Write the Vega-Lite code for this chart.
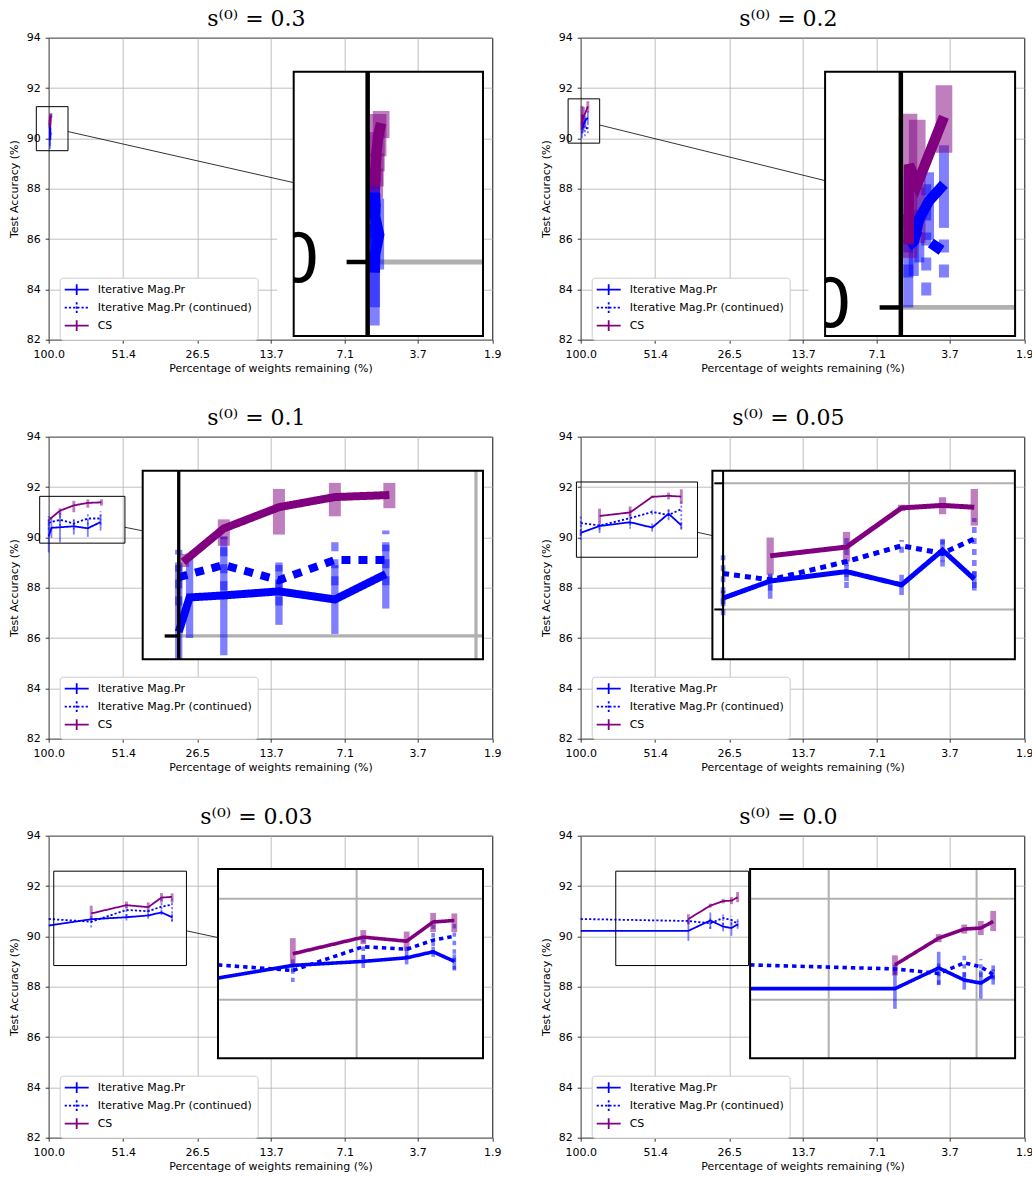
{
"$schema": "https://vega.github.io/schema/vega-lite/v6.json",
"background": "white",
"padding": {"left": 7.7, "top": 6.7, "right": 2, "bottom": 2},
"columns": 2,
"spacing": {"row": 97, "column": 88},
"bounds": "flush",
"resolve": {"scale": {"x": "independent", "y": "independent", "color": "independent", "strokeDash": "independent", "strokeWidth": "independent"}},
"config": {
 "view": {"stroke": "black", "strokeWidth": 1},
 "axis": {"labelFont": "DejaVu Sans", "labelFontSize": 11, "labelColor": "black", "titleFont": "DejaVu Sans", "titleFontSize": 11, "titleFontWeight": "normal", "titleColor": "black", "tickColor": "black", "tickSize": 3.5, "tickWidth": 0.8, "domain": false, "grid": true, "gridColor": "#b0b0b0", "gridWidth": 0.8},
 "axisX": {"titlePadding": 3, "labelPadding": 5.5},
 "axisY": {"titlePadding": 7, "labelPadding": 5},
 "legend": {"orient": "none", "legendX": 11, "legendY": 240, "fillColor": "white", "strokeColor": "#cccccc", "cornerRadius": 3, "padding": 5, "labelFont": "DejaVu Sans", "labelFontSize": 11, "labelColor": "black", "symbolSize": 144, "symbolOffset": 5, "rowPadding": 0, "labelOffset": 14},
 "title": {"font": "DejaVu Serif", "fontSize": 22, "fontWeight": "normal", "color": "black", "anchor": "middle", "offset": 1}
},
"datasets": {
 "pts": [
  {"panel":"0.3","series":"Iterative Mag.Pr","x":98.95,"y":89.93,"lo":89.58,"hi":90.25},
  {"panel":"0.3","series":"Iterative Mag.Pr","x":98.9,"y":90.05,"lo":89.7,"hi":90.4},
  {"panel":"0.3","series":"Iterative Mag.Pr","x":98.3,"y":90.18,"lo":89.95,"hi":90.42},
  {"panel":"0.3","series":"Iterative Mag.Pr","x":98.9,"y":90.3,"lo":90.05,"hi":90.5},
  {"panel":"0.3","series":"Iterative Mag.Pr","x":98.95,"y":90.46,"lo":90.2,"hi":90.6},
  {"panel":"0.3","series":"Iterative Mag.Pr (continued)","x":98.95,"y":90.3,"lo":90.0,"hi":90.55},
  {"panel":"0.3","series":"Iterative Mag.Pr (continued)","x":98.9,"y":90.35,"lo":90.1,"hi":90.6},
  {"panel":"0.3","series":"Iterative Mag.Pr (continued)","x":98.85,"y":90.4,"lo":90.15,"hi":90.62},
  {"panel":"0.3","series":"Iterative Mag.Pr (continued)","x":98.8,"y":90.42,"lo":90.2,"hi":90.62},
  {"panel":"0.3","series":"CS","x":98.95,"y":90.5,"lo":90.42,"hi":90.62},
  {"panel":"0.3","series":"CS","x":98.85,"y":90.6,"lo":90.5,"hi":90.72},
  {"panel":"0.3","series":"CS","x":98.7,"y":90.72,"lo":90.6,"hi":90.86},
  {"panel":"0.3","series":"CS","x":98.45,"y":90.83,"lo":90.7,"hi":90.98},
  {"panel":"0.3","series":"CS","x":98.0,"y":90.92,"lo":90.82,"hi":91.0},
  {"panel":"0.2","series":"Iterative Mag.Pr","x":98.9,"y":90.41,"lo":90.0,"hi":90.62},
  {"panel":"0.2","series":"Iterative Mag.Pr","x":98.1,"y":90.44,"lo":90.21,"hi":90.65},
  {"panel":"0.2","series":"Iterative Mag.Pr","x":97.3,"y":90.59,"lo":90.3,"hi":90.8},
  {"panel":"0.2","series":"Iterative Mag.Pr","x":95.9,"y":90.71,"lo":90.45,"hi":90.9},
  {"panel":"0.2","series":"Iterative Mag.Pr","x":93.8,"y":90.82,"lo":90.53,"hi":91.08},
  {"panel":"0.2","series":"Iterative Mag.Pr (continued)","x":98.9,"y":90.5,"lo":90.2,"hi":90.7},
  {"panel":"0.2","series":"Iterative Mag.Pr (continued)","x":96.3,"y":90.45,"lo":90.08,"hi":90.82},
  {"panel":"0.2","series":"Iterative Mag.Pr (continued)","x":93.8,"y":90.37,"lo":90.2,"hi":90.5},
  {"panel":"0.2","series":"CS","x":98.85,"y":90.42,"lo":90.33,"hi":90.62},
  {"panel":"0.2","series":"CS","x":98.8,"y":90.95,"lo":90.6,"hi":91.29},
  {"panel":"0.2","series":"CS","x":97.6,"y":90.82,"lo":90.43,"hi":91.25},
  {"panel":"0.2","series":"CS","x":93.8,"y":91.27,"lo":91.03,"hi":91.48},
  {"panel":"0.1","series":"Iterative Mag.Pr","x":100,"y":90.04,"lo":89.4,"hi":90.7},
  {"panel":"0.1","series":"Iterative Mag.Pr","x":97.6,"y":90.38,"lo":89.98,"hi":90.81},
  {"panel":"0.1","series":"Iterative Mag.Pr","x":90.4,"y":90.4,"lo":89.81,"hi":90.98},
  {"panel":"0.1","series":"Iterative Mag.Pr","x":79.9,"y":90.44,"lo":90.11,"hi":90.7},
  {"panel":"0.1","series":"Iterative Mag.Pr","x":70.5,"y":90.36,"lo":90.02,"hi":90.7},
  {"panel":"0.1","series":"Iterative Mag.Pr","x":62.9,"y":90.61,"lo":90.27,"hi":90.9},
  {"panel":"0.1","series":"Iterative Mag.Pr (continued)","x":100,"y":90.58,"lo":90.3,"hi":90.85},
  {"panel":"0.1","series":"Iterative Mag.Pr (continued)","x":90.4,"y":90.7,"lo":90.45,"hi":90.98},
  {"panel":"0.1","series":"Iterative Mag.Pr (continued)","x":79.9,"y":90.55,"lo":90.3,"hi":90.76},
  {"panel":"0.1","series":"Iterative Mag.Pr (continued)","x":70.5,"y":90.75,"lo":90.5,"hi":90.96},
  {"panel":"0.1","series":"Iterative Mag.Pr (continued)","x":62.9,"y":90.75,"lo":90.5,"hi":91.04},
  {"panel":"0.1","series":"CS","x":99.0,"y":90.73,"lo":90.68,"hi":90.81},
  {"panel":"0.1","series":"CS","x":90.4,"y":91.06,"lo":90.89,"hi":91.15},
  {"panel":"0.1","series":"CS","x":79.9,"y":91.27,"lo":91.0,"hi":91.45},
  {"panel":"0.1","series":"CS","x":70.5,"y":91.37,"lo":91.18,"hi":91.51},
  {"panel":"0.1","series":"CS","x":62.4,"y":91.39,"lo":91.26,"hi":91.51},
  {"panel":"0.05","series":"Iterative Mag.Pr","x":100,"y":90.18,"lo":90.05,"hi":90.3},
  {"panel":"0.05","series":"Iterative Mag.Pr","x":84.5,"y":90.45,"lo":90.17,"hi":90.55},
  {"panel":"0.05","series":"Iterative Mag.Pr","x":64.3,"y":90.6,"lo":90.45,"hi":90.7},
  {"panel":"0.05","series":"Iterative Mag.Pr","x":52.8,"y":90.39,"lo":90.23,"hi":90.55},
  {"panel":"0.05","series":"Iterative Mag.Pr","x":45.6,"y":90.94,"lo":90.76,"hi":91.12},
  {"panel":"0.05","series":"Iterative Mag.Pr","x":40.7,"y":90.48,"lo":90.3,"hi":90.6},
  {"panel":"0.05","series":"Iterative Mag.Pr (continued)","x":100,"y":90.57,"lo":89.91,"hi":90.86},
  {"panel":"0.05","series":"Iterative Mag.Pr (continued)","x":84.5,"y":90.47,"lo":90.3,"hi":90.65},
  {"panel":"0.05","series":"Iterative Mag.Pr (continued)","x":64.3,"y":90.76,"lo":90.34,"hi":91.18},
  {"panel":"0.05","series":"Iterative Mag.Pr (continued)","x":52.8,"y":91.01,"lo":90.9,"hi":91.1},
  {"panel":"0.05","series":"Iterative Mag.Pr (continued)","x":45.6,"y":90.89,"lo":90.68,"hi":91.1},
  {"panel":"0.05","series":"Iterative Mag.Pr (continued)","x":40.7,"y":91.12,"lo":90.34,"hi":91.45},
  {"panel":"0.05","series":"CS","x":84.5,"y":90.85,"lo":90.55,"hi":91.14},
  {"panel":"0.05","series":"CS","x":64.3,"y":90.99,"lo":90.76,"hi":91.23},
  {"panel":"0.05","series":"CS","x":52.8,"y":91.61,"lo":91.56,"hi":91.66},
  {"panel":"0.05","series":"CS","x":45.6,"y":91.65,"lo":91.51,"hi":91.78},
  {"panel":"0.05","series":"CS","x":40.7,"y":91.62,"lo":91.33,"hi":91.91},
  {"panel":"0.03","series":"Iterative Mag.Pr","x":100,"y":90.43,"lo":90.43,"hi":90.43},
  {"panel":"0.03","series":"Iterative Mag.Pr","x":68.4,"y":90.68,"lo":90.55,"hi":90.8},
  {"panel":"0.03","series":"Iterative Mag.Pr","x":49.9,"y":90.76,"lo":90.63,"hi":90.89},
  {"panel":"0.03","series":"Iterative Mag.Pr","x":41.1,"y":90.83,"lo":90.7,"hi":90.98},
  {"panel":"0.03","series":"Iterative Mag.Pr","x":36.5,"y":90.95,"lo":90.85,"hi":91.05},
  {"panel":"0.03","series":"Iterative Mag.Pr","x":33.2,"y":90.76,"lo":90.6,"hi":90.9},
  {"panel":"0.03","series":"Iterative Mag.Pr (continued)","x":100,"y":90.69,"lo":90.69,"hi":90.69},
  {"panel":"0.03","series":"Iterative Mag.Pr (continued)","x":68.4,"y":90.58,"lo":90.35,"hi":90.68},
  {"panel":"0.03","series":"Iterative Mag.Pr (continued)","x":49.9,"y":91.05,"lo":90.8,"hi":91.2},
  {"panel":"0.03","series":"Iterative Mag.Pr (continued)","x":41.1,"y":91.0,"lo":90.8,"hi":91.2},
  {"panel":"0.03","series":"Iterative Mag.Pr (continued)","x":36.5,"y":91.18,"lo":90.9,"hi":91.5},
  {"panel":"0.03","series":"Iterative Mag.Pr (continued)","x":33.2,"y":91.26,"lo":90.58,"hi":91.51},
  {"panel":"0.03","series":"CS","x":68.4,"y":90.91,"lo":90.65,"hi":91.22},
  {"panel":"0.03","series":"CS","x":49.9,"y":91.24,"lo":91.1,"hi":91.38},
  {"panel":"0.03","series":"CS","x":41.1,"y":91.16,"lo":90.97,"hi":91.35},
  {"panel":"0.03","series":"CS","x":36.5,"y":91.54,"lo":91.34,"hi":91.72},
  {"panel":"0.03","series":"CS","x":33.2,"y":91.57,"lo":91.34,"hi":91.71},
  {"panel":"0.0","series":"Iterative Mag.Pr","x":100,"y":90.22,"lo":90.22,"hi":90.22},
  {"panel":"0.0","series":"Iterative Mag.Pr","x":38.2,"y":90.22,"lo":89.82,"hi":90.68},
  {"panel":"0.0","series":"Iterative Mag.Pr","x":31.4,"y":90.63,"lo":90.29,"hi":90.95},
  {"panel":"0.0","series":"Iterative Mag.Pr","x":28.0,"y":90.39,"lo":90.2,"hi":90.55},
  {"panel":"0.0","series":"Iterative Mag.Pr","x":26.0,"y":90.33,"lo":90.02,"hi":90.58},
  {"panel":"0.0","series":"Iterative Mag.Pr","x":24.6,"y":90.48,"lo":90.3,"hi":90.68},
  {"panel":"0.0","series":"Iterative Mag.Pr (continued)","x":100,"y":90.69,"lo":90.69,"hi":90.69},
  {"panel":"0.0","series":"Iterative Mag.Pr (continued)","x":38.2,"y":90.61,"lo":90.5,"hi":90.7},
  {"panel":"0.0","series":"Iterative Mag.Pr (continued)","x":31.4,"y":90.52,"lo":90.3,"hi":90.75},
  {"panel":"0.0","series":"Iterative Mag.Pr (continued)","x":28.0,"y":90.73,"lo":90.45,"hi":90.95},
  {"panel":"0.0","series":"Iterative Mag.Pr (continued)","x":26.0,"y":90.65,"lo":90.45,"hi":90.8},
  {"panel":"0.0","series":"Iterative Mag.Pr (continued)","x":24.6,"y":90.5,"lo":90.4,"hi":90.6},
  {"panel":"0.0","series":"CS","x":38.2,"y":90.69,"lo":90.48,"hi":90.88},
  {"panel":"0.0","series":"CS","x":31.4,"y":91.22,"lo":91.14,"hi":91.3},
  {"panel":"0.0","series":"CS","x":28.0,"y":91.4,"lo":91.31,"hi":91.49},
  {"panel":"0.0","series":"CS","x":26.0,"y":91.42,"lo":91.28,"hi":91.56},
  {"panel":"0.0","series":"CS","x":24.6,"y":91.55,"lo":91.36,"hi":91.76}
 ],
 "zoom": [
  {"panel":"0.3","x0":111.7,"x1":84.15,"y0":89.51,"y1":91.26},
  {"panel":"0.2","x0":111.9,"x1":84.4,"y0":89.81,"y1":91.57},
  {"panel":"0.1","x0":108.4,"x1":50.6,"y0":89.77,"y1":91.63},
  {"panel":"0.05","x0":103.9,"x1":35.2,"y0":89.21,"y1":92.2},
  {"panel":"0.03","x0":95.6,"x1":29.2,"y0":88.84,"y1":92.59},
  {"panel":"0.0","x0":73.1,"x1":22.3,"y0":88.84,"y1":92.59}
 ],
 "conn": [
  {"panel":"0.3","xa":84.15,"ya":90.27,"xb":11.19,"yb":88.24},
  {"panel":"0.2","xa":84.4,"ya":90.53,"xb":11.25,"yb":88.32},
  {"panel":"0.1","xa":50.6,"ya":90.4,"xb":43.2,"yb":90.26},
  {"panel":"0.05","xa":35.2,"ya":90.2,"xb":30.8,"yb":90.07},
  {"panel":"0.03","xa":29.2,"ya":90.22,"xb":22.0,"yb":89.95}
 ]
},
"concat": [
 {"title": {"text": "s⁽⁰⁾ = 0.3", "dx": -14}, "width": 443.5, "height": 302,
  "resolve": {"scale": {"x": "independent", "y": "independent", "color": "independent", "strokeDash": "independent", "strokeWidth": "independent"}},
  "layer": [
   {"data":{"name":"pts"},"transform":[{"filter":"datum.panel=='0.3' && datum.series=='Iterative Mag.Pr'"}],"mark":{"type":"rule","color":"#0000ff","strokeWidth":1.8,"opacity":0.5},"encoding":{"x":{"field":"x","type":"quantitative","scale":{"type":"log","domain":[100,1.9],"nice":false},"axis":{"values":[100,51.4,26.5,13.7,7.1,3.7,1.9],"format":".1f","labelFlush":false,"title":"Percentage of weights remaining (%)"}},"y":{"field":"lo","type":"quantitative","scale":{"domain":[82,94],"nice":false,"zero":false},"axis":{"values":[82,84,86,88,90,92,94],"title":"Test Accuracy (%)"}},"y2":{"field":"hi"}}},
   {"data":{"name":"pts"},"transform":[{"filter":"datum.panel=='0.3' && datum.series=='Iterative Mag.Pr (continued)'"}],"mark":{"type":"rule","color":"#0000ff","strokeWidth":1.8,"opacity":0.5,"strokeDash":[2.2,2]},"encoding":{"x":{"field":"x","type":"quantitative","scale":{"type":"log","domain":[100,1.9],"nice":false},"axis":null},"y":{"field":"lo","type":"quantitative","scale":{"domain":[82,94],"nice":false,"zero":false},"axis":null},"y2":{"field":"hi"}}},
   {"data":{"name":"pts"},"transform":[{"filter":"datum.panel=='0.3' && datum.series=='CS'"}],"mark":{"type":"rule","color":"#800080","strokeWidth":2.9,"opacity":0.5},"encoding":{"x":{"field":"x","type":"quantitative","scale":{"type":"log","domain":[100,1.9],"nice":false},"axis":null},"y":{"field":"lo","type":"quantitative","scale":{"domain":[82,94],"nice":false,"zero":false},"axis":null},"y2":{"field":"hi"}}},
   {"data":{"name":"pts"},"transform":[{"filter":"datum.panel=='0.3'"}],"mark":{"type":"line"},"encoding":{"x":{"field":"x","type":"quantitative","scale":{"type":"log","domain":[100,1.9],"nice":false},"axis":null},"y":{"field":"y","type":"quantitative","scale":{"domain":[82,94],"nice":false,"zero":false},"axis":null},"color":{"field":"series","type":"nominal","scale":{"domain":["Iterative Mag.Pr","Iterative Mag.Pr (continued)","CS"],"range":["#0000ff","#0000ff","#800080"]},"title":null,"legend":{"symbolType":"M-2,0H2M0,-0.9V0.9"}},"strokeDash":{"field":"series","type":"nominal","scale":{"domain":["Iterative Mag.Pr","Iterative Mag.Pr (continued)","CS"],"range":[[1,0],[2.2,2],[1,0]]},"title":null,"legend":{"symbolType":"M-2,0H2M0,-0.9V0.9"}},"strokeWidth":{"field":"series","type":"nominal","scale":{"domain":["Iterative Mag.Pr","Iterative Mag.Pr (continued)","CS"],"range":[1.8,1.8,3.8]},"title":null,"legend":{"symbolType":"M-2,0H2M0,-0.9V0.9"}},"order":{"value":null}}},
   {"data":{"name":"zoom"},"transform":[{"filter":"datum.panel=='0.3'"}],"mark":{"type":"rect","filled":false,"color":"black","strokeWidth":1},"encoding":{"x":{"field":"x0","type":"quantitative","scale":{"type":"log","domain":[100,1.9],"nice":false},"axis":null},"x2":{"field":"x1"},"y":{"field":"y0","type":"quantitative","scale":{"domain":[82,94],"nice":false,"zero":false},"axis":null},"y2":{"field":"y1"}}},
   {"data":{"name":"conn"},"transform":[{"filter":"datum.panel=='0.3'"}],"mark":{"type":"rule","color":"black","strokeWidth":0.8},"encoding":{"x":{"field":"xa","type":"quantitative","scale":{"type":"log","domain":[100,1.9],"nice":false},"axis":null},"x2":{"field":"xb"},"y":{"field":"ya","type":"quantitative","scale":{"domain":[82,94],"nice":false,"zero":false},"axis":null},"y2":{"field":"yb"}}},
   {"data":{"name":"zoom"},"transform":[{"filter":"datum.panel=='0.3'"}],"mark":{"type":"rect","color":"white"},"encoding":{"x":{"field":"x0","type":"quantitative","scale":{"type":"log","domain":[111.7,84.15],"range":[245,434.3],"nice":false},"axis":null},"x2":{"field":"x1"},"y":{"field":"y0","type":"quantitative","scale":{"domain":[89.51,91.26],"range":[298.3,34],"nice":false,"zero":false,"clamp":true},"axis":null},"y2":{"field":"y1"}}},
   {"data":{"values":[{"g":90}]},"mark":{"type":"rule","color":"#b0b0b0","strokeWidth":4.8},"encoding":{"x":{"datum":100,"type":"quantitative","scale":{"type":"log","domain":[111.7,84.15],"range":[245,434.3],"nice":false},"axis":null},"x2":{"datum":84.15},"y":{"field":"g","type":"quantitative","scale":{"domain":[89.51,91.26],"range":[298.3,34],"nice":false,"zero":false,"clamp":true},"axis":null}}},
   {"data":{"name":"pts"},"transform":[{"filter":"datum.panel=='0.3' && datum.series=='Iterative Mag.Pr'"}],"mark":{"type":"rule","color":"#0000ff","strokeWidth":10,"opacity":0.5},"encoding":{"x":{"field":"x","type":"quantitative","scale":{"type":"log","domain":[111.7,84.15],"range":[245,434.3],"nice":false},"axis":null},"y":{"field":"lo","type":"quantitative","scale":{"domain":[89.51,91.26],"range":[298.3,34],"nice":false,"zero":false,"clamp":true},"axis":null},"y2":{"field":"hi"}}},
   {"data":{"name":"pts"},"transform":[{"filter":"datum.panel=='0.3' && datum.series=='Iterative Mag.Pr (continued)'"}],"mark":{"type":"rule","color":"#0000ff","strokeWidth":10,"opacity":0.5,"strokeDash":[13,12]},"encoding":{"x":{"field":"x","type":"quantitative","scale":{"type":"log","domain":[111.7,84.15],"range":[245,434.3],"nice":false},"axis":null},"y":{"field":"lo","type":"quantitative","scale":{"domain":[89.51,91.26],"range":[298.3,34],"nice":false,"zero":false,"clamp":true},"axis":null},"y2":{"field":"hi"}}},
   {"data":{"name":"pts"},"transform":[{"filter":"datum.panel=='0.3' && datum.series=='CS'"}],"mark":{"type":"rule","color":"#800080","strokeWidth":16.7,"opacity":0.5},"encoding":{"x":{"field":"x","type":"quantitative","scale":{"type":"log","domain":[111.7,84.15],"range":[245,434.3],"nice":false},"axis":null},"y":{"field":"lo","type":"quantitative","scale":{"domain":[89.51,91.26],"range":[298.3,34],"nice":false,"zero":false,"clamp":true},"axis":null},"y2":{"field":"hi"}}},
   {"data":{"name":"pts"},"transform":[{"filter":"datum.panel=='0.3'"}],"mark":{"type":"line"},"encoding":{"x":{"field":"x","type":"quantitative","scale":{"type":"log","domain":[111.7,84.15],"range":[245,434.3],"nice":false},"axis":null},"y":{"field":"y","type":"quantitative","scale":{"domain":[89.51,91.26],"range":[298.3,34],"nice":false,"zero":false,"clamp":true},"axis":null},"color":{"field":"series","type":"nominal","scale":{"domain":["Iterative Mag.Pr","Iterative Mag.Pr (continued)","CS"],"range":["#0000ff","#0000ff","#800080"]},"legend":null},"strokeDash":{"field":"series","type":"nominal","scale":{"domain":["Iterative Mag.Pr","Iterative Mag.Pr (continued)","CS"],"range":[[1,0],[13,12],[1,0]]},"legend":null},"strokeWidth":{"field":"series","type":"nominal","scale":{"domain":["Iterative Mag.Pr","Iterative Mag.Pr (continued)","CS"],"range":[10.5,10.5,15]},"legend":null},"order":{"value":null}}},
   {"data":{"values":[{}]},"mark":{"type":"rule","color":"black","strokeWidth":4.5},"encoding":{"x":{"datum":100,"type":"quantitative","scale":{"type":"log","domain":[111.7,84.15],"range":[245,434.3],"nice":false},"axis":null},"y":{"datum":89.51,"type":"quantitative","scale":{"domain":[89.51,91.26],"range":[298.3,34],"nice":false,"zero":false,"clamp":true},"axis":null},"y2":{"datum":91.26}}},
   {"data":{"values":[{"g":90}]},"mark":{"type":"rule","color":"black","strokeWidth":4.5},"encoding":{"x":{"datum":100,"type":"quantitative","scale":{"type":"log","domain":[111.7,84.15],"range":[245,434.3],"nice":false},"axis":null},"x2":{"datum":103.2},"y":{"field":"g","type":"quantitative","scale":{"domain":[89.51,91.26],"range":[298.3,34],"nice":false,"zero":false,"clamp":true},"axis":null}}},
   {"data":{"values":[{}]},"mark":{"type":"text","text":"0","font":"DejaVu Sans","fontSize":68,"align":"right","baseline":"middle","color":"black"},"encoding":{"x":{"datum":107.4,"type":"quantitative","scale":{"type":"log","domain":[111.7,84.15],"range":[245,434.3],"nice":false},"axis":null},"y":{"datum":90,"type":"quantitative","scale":{"domain":[89.51,91.26],"range":[298.3,34],"nice":false,"zero":false,"clamp":true},"axis":null}}},
   {"data":{"values":[{}]},"mark":{"type":"rect","color":"white"},"encoding":{"x":{"datum":114.5,"type":"quantitative","scale":{"type":"log","domain":[111.7,84.15],"range":[245,434.3],"nice":false},"axis":null},"x2":{"datum":111.7},"y":{"datum":89.78,"type":"quantitative","scale":{"domain":[89.51,91.26],"range":[298.3,34],"nice":false,"zero":false,"clamp":true},"axis":null},"y2":{"datum":90.22}}},
   {"data":{"name":"zoom"},"transform":[{"filter":"datum.panel=='0.3'"}],"mark":{"type":"rect","filled":false,"color":"black","strokeWidth":2},"encoding":{"x":{"field":"x0","type":"quantitative","scale":{"type":"log","domain":[111.7,84.15],"range":[245,434.3],"nice":false},"axis":null},"x2":{"field":"x1"},"y":{"field":"y0","type":"quantitative","scale":{"domain":[89.51,91.26],"range":[298.3,34],"nice":false,"zero":false,"clamp":true},"axis":null},"y2":{"field":"y1"}}}
  ]},
 {"title": {"text": "s⁽⁰⁾ = 0.2", "dx": -14}, "width": 443.5, "height": 302,
  "resolve": {"scale": {"x": "independent", "y": "independent", "color": "independent", "strokeDash": "independent", "strokeWidth": "independent"}},
  "layer": [
   {"data":{"name":"pts"},"transform":[{"filter":"datum.panel=='0.2' && datum.series=='Iterative Mag.Pr'"}],"mark":{"type":"rule","color":"#0000ff","strokeWidth":1.8,"opacity":0.5},"encoding":{"x":{"field":"x","type":"quantitative","scale":{"type":"log","domain":[100,1.9],"nice":false},"axis":{"values":[100,51.4,26.5,13.7,7.1,3.7,1.9],"format":".1f","labelFlush":false,"title":"Percentage of weights remaining (%)"}},"y":{"field":"lo","type":"quantitative","scale":{"domain":[82,94],"nice":false,"zero":false},"axis":{"values":[82,84,86,88,90,92,94],"title":"Test Accuracy (%)"}},"y2":{"field":"hi"}}},
   {"data":{"name":"pts"},"transform":[{"filter":"datum.panel=='0.2' && datum.series=='Iterative Mag.Pr (continued)'"}],"mark":{"type":"rule","color":"#0000ff","strokeWidth":1.8,"opacity":0.5,"strokeDash":[2.2,2]},"encoding":{"x":{"field":"x","type":"quantitative","scale":{"type":"log","domain":[100,1.9],"nice":false},"axis":null},"y":{"field":"lo","type":"quantitative","scale":{"domain":[82,94],"nice":false,"zero":false},"axis":null},"y2":{"field":"hi"}}},
   {"data":{"name":"pts"},"transform":[{"filter":"datum.panel=='0.2' && datum.series=='CS'"}],"mark":{"type":"rule","color":"#800080","strokeWidth":2.9,"opacity":0.5},"encoding":{"x":{"field":"x","type":"quantitative","scale":{"type":"log","domain":[100,1.9],"nice":false},"axis":null},"y":{"field":"lo","type":"quantitative","scale":{"domain":[82,94],"nice":false,"zero":false},"axis":null},"y2":{"field":"hi"}}},
   {"data":{"name":"pts"},"transform":[{"filter":"datum.panel=='0.2'"}],"mark":{"type":"line"},"encoding":{"x":{"field":"x","type":"quantitative","scale":{"type":"log","domain":[100,1.9],"nice":false},"axis":null},"y":{"field":"y","type":"quantitative","scale":{"domain":[82,94],"nice":false,"zero":false},"axis":null},"color":{"field":"series","type":"nominal","scale":{"domain":["Iterative Mag.Pr","Iterative Mag.Pr (continued)","CS"],"range":["#0000ff","#0000ff","#800080"]},"title":null,"legend":{"symbolType":"M-2,0H2M0,-0.9V0.9"}},"strokeDash":{"field":"series","type":"nominal","scale":{"domain":["Iterative Mag.Pr","Iterative Mag.Pr (continued)","CS"],"range":[[1,0],[2.2,2],[1,0]]},"title":null,"legend":{"symbolType":"M-2,0H2M0,-0.9V0.9"}},"strokeWidth":{"field":"series","type":"nominal","scale":{"domain":["Iterative Mag.Pr","Iterative Mag.Pr (continued)","CS"],"range":[1.8,1.8,3.8]},"title":null,"legend":{"symbolType":"M-2,0H2M0,-0.9V0.9"}},"order":{"value":null}}},
   {"data":{"name":"zoom"},"transform":[{"filter":"datum.panel=='0.2'"}],"mark":{"type":"rect","filled":false,"color":"black","strokeWidth":1},"encoding":{"x":{"field":"x0","type":"quantitative","scale":{"type":"log","domain":[100,1.9],"nice":false},"axis":null},"x2":{"field":"x1"},"y":{"field":"y0","type":"quantitative","scale":{"domain":[82,94],"nice":false,"zero":false},"axis":null},"y2":{"field":"y1"}}},
   {"data":{"name":"conn"},"transform":[{"filter":"datum.panel=='0.2'"}],"mark":{"type":"rule","color":"black","strokeWidth":0.8},"encoding":{"x":{"field":"xa","type":"quantitative","scale":{"type":"log","domain":[100,1.9],"nice":false},"axis":null},"x2":{"field":"xb"},"y":{"field":"ya","type":"quantitative","scale":{"domain":[82,94],"nice":false,"zero":false},"axis":null},"y2":{"field":"yb"}}},
   {"data":{"name":"zoom"},"transform":[{"filter":"datum.panel=='0.2'"}],"mark":{"type":"rect","color":"white"},"encoding":{"x":{"field":"x0","type":"quantitative","scale":{"type":"log","domain":[111.9,84.4],"range":[244.4,434.4],"nice":false},"axis":null},"x2":{"field":"x1"},"y":{"field":"y0","type":"quantitative","scale":{"domain":[89.81,91.57],"range":[298.3,34],"nice":false,"zero":false,"clamp":true},"axis":null},"y2":{"field":"y1"}}},
   {"data":{"values":[{"g":90}]},"mark":{"type":"rule","color":"#b0b0b0","strokeWidth":4.8},"encoding":{"x":{"datum":100,"type":"quantitative","scale":{"type":"log","domain":[111.9,84.4],"range":[244.4,434.4],"nice":false},"axis":null},"x2":{"datum":84.4},"y":{"field":"g","type":"quantitative","scale":{"domain":[89.81,91.57],"range":[298.3,34],"nice":false,"zero":false,"clamp":true},"axis":null}}},
   {"data":{"name":"pts"},"transform":[{"filter":"datum.panel=='0.2' && datum.series=='Iterative Mag.Pr'"}],"mark":{"type":"rule","color":"#0000ff","strokeWidth":10,"opacity":0.5},"encoding":{"x":{"field":"x","type":"quantitative","scale":{"type":"log","domain":[111.9,84.4],"range":[244.4,434.4],"nice":false},"axis":null},"y":{"field":"lo","type":"quantitative","scale":{"domain":[89.81,91.57],"range":[298.3,34],"nice":false,"zero":false,"clamp":true},"axis":null},"y2":{"field":"hi"}}},
   {"data":{"name":"pts"},"transform":[{"filter":"datum.panel=='0.2' && datum.series=='Iterative Mag.Pr (continued)'"}],"mark":{"type":"rule","color":"#0000ff","strokeWidth":10,"opacity":0.5,"strokeDash":[13,12]},"encoding":{"x":{"field":"x","type":"quantitative","scale":{"type":"log","domain":[111.9,84.4],"range":[244.4,434.4],"nice":false},"axis":null},"y":{"field":"lo","type":"quantitative","scale":{"domain":[89.81,91.57],"range":[298.3,34],"nice":false,"zero":false,"clamp":true},"axis":null},"y2":{"field":"hi"}}},
   {"data":{"name":"pts"},"transform":[{"filter":"datum.panel=='0.2' && datum.series=='CS'"}],"mark":{"type":"rule","color":"#800080","strokeWidth":16.7,"opacity":0.5},"encoding":{"x":{"field":"x","type":"quantitative","scale":{"type":"log","domain":[111.9,84.4],"range":[244.4,434.4],"nice":false},"axis":null},"y":{"field":"lo","type":"quantitative","scale":{"domain":[89.81,91.57],"range":[298.3,34],"nice":false,"zero":false,"clamp":true},"axis":null},"y2":{"field":"hi"}}},
   {"data":{"name":"pts"},"transform":[{"filter":"datum.panel=='0.2'"}],"mark":{"type":"line"},"encoding":{"x":{"field":"x","type":"quantitative","scale":{"type":"log","domain":[111.9,84.4],"range":[244.4,434.4],"nice":false},"axis":null},"y":{"field":"y","type":"quantitative","scale":{"domain":[89.81,91.57],"range":[298.3,34],"nice":false,"zero":false,"clamp":true},"axis":null},"color":{"field":"series","type":"nominal","scale":{"domain":["Iterative Mag.Pr","Iterative Mag.Pr (continued)","CS"],"range":["#0000ff","#0000ff","#800080"]},"legend":null},"strokeDash":{"field":"series","type":"nominal","scale":{"domain":["Iterative Mag.Pr","Iterative Mag.Pr (continued)","CS"],"range":[[1,0],[13,12],[1,0]]},"legend":null},"strokeWidth":{"field":"series","type":"nominal","scale":{"domain":["Iterative Mag.Pr","Iterative Mag.Pr (continued)","CS"],"range":[10.5,10.5,17]},"legend":null},"order":{"value":null}}},
   {"data":{"values":[{}]},"mark":{"type":"rule","color":"black","strokeWidth":4.5},"encoding":{"x":{"datum":100,"type":"quantitative","scale":{"type":"log","domain":[111.9,84.4],"range":[244.4,434.4],"nice":false},"axis":null},"y":{"datum":89.81,"type":"quantitative","scale":{"domain":[89.81,91.57],"range":[298.3,34],"nice":false,"zero":false,"clamp":true},"axis":null},"y2":{"datum":91.57}}},
   {"data":{"values":[{"g":90}]},"mark":{"type":"rule","color":"black","strokeWidth":4.5},"encoding":{"x":{"datum":100,"type":"quantitative","scale":{"type":"log","domain":[111.9,84.4],"range":[244.4,434.4],"nice":false},"axis":null},"x2":{"datum":103.2},"y":{"field":"g","type":"quantitative","scale":{"domain":[89.81,91.57],"range":[298.3,34],"nice":false,"zero":false,"clamp":true},"axis":null}}},
   {"data":{"values":[{}]},"mark":{"type":"text","text":"0","font":"DejaVu Sans","fontSize":68,"align":"right","baseline":"middle","color":"black"},"encoding":{"x":{"datum":107.5,"type":"quantitative","scale":{"type":"log","domain":[111.9,84.4],"range":[244.4,434.4],"nice":false},"axis":null},"y":{"datum":90,"type":"quantitative","scale":{"domain":[89.81,91.57],"range":[298.3,34],"nice":false,"zero":false,"clamp":true},"axis":null}}},
   {"data":{"values":[{}]},"mark":{"type":"rect","color":"white"},"encoding":{"x":{"datum":114.7,"type":"quantitative","scale":{"type":"log","domain":[111.9,84.4],"range":[244.4,434.4],"nice":false},"axis":null},"x2":{"datum":111.9},"y":{"datum":89.78,"type":"quantitative","scale":{"domain":[89.81,91.57],"range":[298.3,34],"nice":false,"zero":false,"clamp":true},"axis":null},"y2":{"datum":90.22}}},
   {"data":{"name":"zoom"},"transform":[{"filter":"datum.panel=='0.2'"}],"mark":{"type":"rect","filled":false,"color":"black","strokeWidth":2},"encoding":{"x":{"field":"x0","type":"quantitative","scale":{"type":"log","domain":[111.9,84.4],"range":[244.4,434.4],"nice":false},"axis":null},"x2":{"field":"x1"},"y":{"field":"y0","type":"quantitative","scale":{"domain":[89.81,91.57],"range":[298.3,34],"nice":false,"zero":false,"clamp":true},"axis":null},"y2":{"field":"y1"}}}
  ]},
 {"title": {"text": "s⁽⁰⁾ = 0.1", "dx": -14}, "width": 443.5, "height": 302,
  "resolve": {"scale": {"x": "independent", "y": "independent", "color": "independent", "strokeDash": "independent", "strokeWidth": "independent"}},
  "layer": [
   {"data":{"name":"pts"},"transform":[{"filter":"datum.panel=='0.1' && datum.series=='Iterative Mag.Pr'"}],"mark":{"type":"rule","color":"#0000ff","strokeWidth":1.8,"opacity":0.5},"encoding":{"x":{"field":"x","type":"quantitative","scale":{"type":"log","domain":[100,1.9],"nice":false},"axis":{"values":[100,51.4,26.5,13.7,7.1,3.7,1.9],"format":".1f","labelFlush":false,"title":"Percentage of weights remaining (%)"}},"y":{"field":"lo","type":"quantitative","scale":{"domain":[82,94],"nice":false,"zero":false},"axis":{"values":[82,84,86,88,90,92,94],"title":"Test Accuracy (%)"}},"y2":{"field":"hi"}}},
   {"data":{"name":"pts"},"transform":[{"filter":"datum.panel=='0.1' && datum.series=='Iterative Mag.Pr (continued)'"}],"mark":{"type":"rule","color":"#0000ff","strokeWidth":1.8,"opacity":0.5,"strokeDash":[2.2,2]},"encoding":{"x":{"field":"x","type":"quantitative","scale":{"type":"log","domain":[100,1.9],"nice":false},"axis":null},"y":{"field":"lo","type":"quantitative","scale":{"domain":[82,94],"nice":false,"zero":false},"axis":null},"y2":{"field":"hi"}}},
   {"data":{"name":"pts"},"transform":[{"filter":"datum.panel=='0.1' && datum.series=='CS'"}],"mark":{"type":"rule","color":"#800080","strokeWidth":2.9,"opacity":0.5},"encoding":{"x":{"field":"x","type":"quantitative","scale":{"type":"log","domain":[100,1.9],"nice":false},"axis":null},"y":{"field":"lo","type":"quantitative","scale":{"domain":[82,94],"nice":false,"zero":false},"axis":null},"y2":{"field":"hi"}}},
   {"data":{"name":"pts"},"transform":[{"filter":"datum.panel=='0.1'"}],"mark":{"type":"line"},"encoding":{"x":{"field":"x","type":"quantitative","scale":{"type":"log","domain":[100,1.9],"nice":false},"axis":null},"y":{"field":"y","type":"quantitative","scale":{"domain":[82,94],"nice":false,"zero":false},"axis":null},"color":{"field":"series","type":"nominal","scale":{"domain":["Iterative Mag.Pr","Iterative Mag.Pr (continued)","CS"],"range":["#0000ff","#0000ff","#800080"]},"title":null,"legend":{"symbolType":"M-2,0H2M0,-0.9V0.9"}},"strokeDash":{"field":"series","type":"nominal","scale":{"domain":["Iterative Mag.Pr","Iterative Mag.Pr (continued)","CS"],"range":[[1,0],[2.2,2],[1,0]]},"title":null,"legend":{"symbolType":"M-2,0H2M0,-0.9V0.9"}},"strokeWidth":{"field":"series","type":"nominal","scale":{"domain":["Iterative Mag.Pr","Iterative Mag.Pr (continued)","CS"],"range":[1.8,1.8,3.8]},"title":null,"legend":{"symbolType":"M-2,0H2M0,-0.9V0.9"}},"order":{"value":null}}},
   {"data":{"name":"zoom"},"transform":[{"filter":"datum.panel=='0.1'"}],"mark":{"type":"rect","filled":false,"color":"black","strokeWidth":1},"encoding":{"x":{"field":"x0","type":"quantitative","scale":{"type":"log","domain":[100,1.9],"nice":false},"axis":null},"x2":{"field":"x1"},"y":{"field":"y0","type":"quantitative","scale":{"domain":[82,94],"nice":false,"zero":false},"axis":null},"y2":{"field":"y1"}}},
   {"data":{"name":"conn"},"transform":[{"filter":"datum.panel=='0.1'"}],"mark":{"type":"rule","color":"black","strokeWidth":0.8},"encoding":{"x":{"field":"xa","type":"quantitative","scale":{"type":"log","domain":[100,1.9],"nice":false},"axis":null},"x2":{"field":"xb"},"y":{"field":"ya","type":"quantitative","scale":{"domain":[82,94],"nice":false,"zero":false},"axis":null},"y2":{"field":"yb"}}},
   {"data":{"name":"zoom"},"transform":[{"filter":"datum.panel=='0.1'"}],"mark":{"type":"rect","color":"white"},"encoding":{"x":{"field":"x0","type":"quantitative","scale":{"type":"log","domain":[108.4,50.6],"range":[94,434.3],"nice":false},"axis":null},"x2":{"field":"x1"},"y":{"field":"y0","type":"quantitative","scale":{"domain":[89.77,91.63],"range":[222.6,34],"nice":false,"zero":false,"clamp":true},"axis":null},"y2":{"field":"y1"}}},
   {"data":{"values":[{"g":90}]},"mark":{"type":"rule","color":"#b0b0b0","strokeWidth":3.2},"encoding":{"x":{"datum":100,"type":"quantitative","scale":{"type":"log","domain":[108.4,50.6],"range":[94,434.3],"nice":false},"axis":null},"x2":{"datum":50.6},"y":{"field":"g","type":"quantitative","scale":{"domain":[89.77,91.63],"range":[222.6,34],"nice":false,"zero":false,"clamp":true},"axis":null}}},
   {"data":{"values":[{"g":51.4}]},"mark":{"type":"rule","color":"#b0b0b0","strokeWidth":3.2},"encoding":{"x":{"field":"g","type":"quantitative","scale":{"type":"log","domain":[108.4,50.6],"range":[94,434.3],"nice":false},"axis":null},"y":{"datum":89.77,"type":"quantitative","scale":{"domain":[89.77,91.63],"range":[222.6,34],"nice":false,"zero":false,"clamp":true},"axis":null},"y2":{"datum":91.63}}},
   {"data":{"name":"pts"},"transform":[{"filter":"datum.panel=='0.1' && datum.series=='Iterative Mag.Pr'"}],"mark":{"type":"rule","color":"#0000ff","strokeWidth":7.3,"opacity":0.5},"encoding":{"x":{"field":"x","type":"quantitative","scale":{"type":"log","domain":[108.4,50.6],"range":[94,434.3],"nice":false},"axis":null},"y":{"field":"lo","type":"quantitative","scale":{"domain":[89.77,91.63],"range":[222.6,34],"nice":false,"zero":false,"clamp":true},"axis":null},"y2":{"field":"hi"}}},
   {"data":{"name":"pts"},"transform":[{"filter":"datum.panel=='0.1' && datum.series=='Iterative Mag.Pr (continued)'"}],"mark":{"type":"rule","color":"#0000ff","strokeWidth":7.3,"opacity":0.5,"strokeDash":[9,8]},"encoding":{"x":{"field":"x","type":"quantitative","scale":{"type":"log","domain":[108.4,50.6],"range":[94,434.3],"nice":false},"axis":null},"y":{"field":"lo","type":"quantitative","scale":{"domain":[89.77,91.63],"range":[222.6,34],"nice":false,"zero":false,"clamp":true},"axis":null},"y2":{"field":"hi"}}},
   {"data":{"name":"pts"},"transform":[{"filter":"datum.panel=='0.1' && datum.series=='CS'"}],"mark":{"type":"rule","color":"#800080","strokeWidth":12,"opacity":0.5},"encoding":{"x":{"field":"x","type":"quantitative","scale":{"type":"log","domain":[108.4,50.6],"range":[94,434.3],"nice":false},"axis":null},"y":{"field":"lo","type":"quantitative","scale":{"domain":[89.77,91.63],"range":[222.6,34],"nice":false,"zero":false,"clamp":true},"axis":null},"y2":{"field":"hi"}}},
   {"data":{"name":"pts"},"transform":[{"filter":"datum.panel=='0.1'"}],"mark":{"type":"line"},"encoding":{"x":{"field":"x","type":"quantitative","scale":{"type":"log","domain":[108.4,50.6],"range":[94,434.3],"nice":false},"axis":null},"y":{"field":"y","type":"quantitative","scale":{"domain":[89.77,91.63],"range":[222.6,34],"nice":false,"zero":false,"clamp":true},"axis":null},"color":{"field":"series","type":"nominal","scale":{"domain":["Iterative Mag.Pr","Iterative Mag.Pr (continued)","CS"],"range":["#0000ff","#0000ff","#800080"]},"legend":null},"strokeDash":{"field":"series","type":"nominal","scale":{"domain":["Iterative Mag.Pr","Iterative Mag.Pr (continued)","CS"],"range":[[1,0],[9,8],[1,0]]},"legend":null},"strokeWidth":{"field":"series","type":"nominal","scale":{"domain":["Iterative Mag.Pr","Iterative Mag.Pr (continued)","CS"],"range":[8,8,16]},"legend":null},"order":{"value":null}}},
   {"data":{"values":[{}]},"mark":{"type":"rule","color":"black","strokeWidth":3.3},"encoding":{"x":{"datum":100,"type":"quantitative","scale":{"type":"log","domain":[108.4,50.6],"range":[94,434.3],"nice":false},"axis":null},"y":{"datum":89.77,"type":"quantitative","scale":{"domain":[89.77,91.63],"range":[222.6,34],"nice":false,"zero":false,"clamp":true},"axis":null},"y2":{"datum":91.63}}},
   {"data":{"values":[{"g":90}]},"mark":{"type":"rule","color":"black","strokeWidth":3.3},"encoding":{"x":{"datum":100,"type":"quantitative","scale":{"type":"log","domain":[108.4,50.6],"range":[94,434.3],"nice":false},"axis":null},"x2":{"datum":103.2},"y":{"field":"g","type":"quantitative","scale":{"domain":[89.77,91.63],"range":[222.6,34],"nice":false,"zero":false,"clamp":true},"axis":null}}},
   {"data":{"name":"zoom"},"transform":[{"filter":"datum.panel=='0.1'"}],"mark":{"type":"rect","filled":false,"color":"black","strokeWidth":2},"encoding":{"x":{"field":"x0","type":"quantitative","scale":{"type":"log","domain":[108.4,50.6],"range":[94,434.3],"nice":false},"axis":null},"x2":{"field":"x1"},"y":{"field":"y0","type":"quantitative","scale":{"domain":[89.77,91.63],"range":[222.6,34],"nice":false,"zero":false,"clamp":true},"axis":null},"y2":{"field":"y1"}}}
  ]},
 {"title": {"text": "s⁽⁰⁾ = 0.05", "dx": -14}, "width": 443.5, "height": 302,
  "resolve": {"scale": {"x": "independent", "y": "independent", "color": "independent", "strokeDash": "independent", "strokeWidth": "independent"}},
  "layer": [
   {"data":{"name":"pts"},"transform":[{"filter":"datum.panel=='0.05' && datum.series=='Iterative Mag.Pr'"}],"mark":{"type":"rule","color":"#0000ff","strokeWidth":1.8,"opacity":0.5},"encoding":{"x":{"field":"x","type":"quantitative","scale":{"type":"log","domain":[100,1.9],"nice":false},"axis":{"values":[100,51.4,26.5,13.7,7.1,3.7,1.9],"format":".1f","labelFlush":false,"title":"Percentage of weights remaining (%)"}},"y":{"field":"lo","type":"quantitative","scale":{"domain":[82,94],"nice":false,"zero":false},"axis":{"values":[82,84,86,88,90,92,94],"title":"Test Accuracy (%)"}},"y2":{"field":"hi"}}},
   {"data":{"name":"pts"},"transform":[{"filter":"datum.panel=='0.05' && datum.series=='Iterative Mag.Pr (continued)'"}],"mark":{"type":"rule","color":"#0000ff","strokeWidth":1.8,"opacity":0.5,"strokeDash":[2.2,2]},"encoding":{"x":{"field":"x","type":"quantitative","scale":{"type":"log","domain":[100,1.9],"nice":false},"axis":null},"y":{"field":"lo","type":"quantitative","scale":{"domain":[82,94],"nice":false,"zero":false},"axis":null},"y2":{"field":"hi"}}},
   {"data":{"name":"pts"},"transform":[{"filter":"datum.panel=='0.05' && datum.series=='CS'"}],"mark":{"type":"rule","color":"#800080","strokeWidth":2.9,"opacity":0.5},"encoding":{"x":{"field":"x","type":"quantitative","scale":{"type":"log","domain":[100,1.9],"nice":false},"axis":null},"y":{"field":"lo","type":"quantitative","scale":{"domain":[82,94],"nice":false,"zero":false},"axis":null},"y2":{"field":"hi"}}},
   {"data":{"name":"pts"},"transform":[{"filter":"datum.panel=='0.05'"}],"mark":{"type":"line"},"encoding":{"x":{"field":"x","type":"quantitative","scale":{"type":"log","domain":[100,1.9],"nice":false},"axis":null},"y":{"field":"y","type":"quantitative","scale":{"domain":[82,94],"nice":false,"zero":false},"axis":null},"color":{"field":"series","type":"nominal","scale":{"domain":["Iterative Mag.Pr","Iterative Mag.Pr (continued)","CS"],"range":["#0000ff","#0000ff","#800080"]},"title":null,"legend":{"symbolType":"M-2,0H2M0,-0.9V0.9"}},"strokeDash":{"field":"series","type":"nominal","scale":{"domain":["Iterative Mag.Pr","Iterative Mag.Pr (continued)","CS"],"range":[[1,0],[2.2,2],[1,0]]},"title":null,"legend":{"symbolType":"M-2,0H2M0,-0.9V0.9"}},"strokeWidth":{"field":"series","type":"nominal","scale":{"domain":["Iterative Mag.Pr","Iterative Mag.Pr (continued)","CS"],"range":[1.8,1.8,3.8]},"title":null,"legend":{"symbolType":"M-2,0H2M0,-0.9V0.9"}},"order":{"value":null}}},
   {"data":{"name":"zoom"},"transform":[{"filter":"datum.panel=='0.05'"}],"mark":{"type":"rect","filled":false,"color":"black","strokeWidth":1},"encoding":{"x":{"field":"x0","type":"quantitative","scale":{"type":"log","domain":[100,1.9],"nice":false},"axis":null},"x2":{"field":"x1"},"y":{"field":"y0","type":"quantitative","scale":{"domain":[82,94],"nice":false,"zero":false},"axis":null},"y2":{"field":"y1"}}},
   {"data":{"name":"conn"},"transform":[{"filter":"datum.panel=='0.05'"}],"mark":{"type":"rule","color":"black","strokeWidth":0.8},"encoding":{"x":{"field":"xa","type":"quantitative","scale":{"type":"log","domain":[100,1.9],"nice":false},"axis":null},"x2":{"field":"xb"},"y":{"field":"ya","type":"quantitative","scale":{"domain":[82,94],"nice":false,"zero":false},"axis":null},"y2":{"field":"yb"}}},
   {"data":{"name":"zoom"},"transform":[{"filter":"datum.panel=='0.05'"}],"mark":{"type":"rect","color":"white"},"encoding":{"x":{"field":"x0","type":"quantitative","scale":{"type":"log","domain":[103.9,35.2],"range":[131.7,434.2],"nice":false},"axis":null},"x2":{"field":"x1"},"y":{"field":"y0","type":"quantitative","scale":{"domain":[89.21,92.2],"range":[222.6,34],"nice":false,"zero":false,"clamp":true},"axis":null},"y2":{"field":"y1"}}},
   {"data":{"values":[{"g":92},{"g":90}]},"mark":{"type":"rule","color":"#b0b0b0","strokeWidth":2},"encoding":{"x":{"datum":100,"type":"quantitative","scale":{"type":"log","domain":[103.9,35.2],"range":[131.7,434.2],"nice":false},"axis":null},"x2":{"datum":35.2},"y":{"field":"g","type":"quantitative","scale":{"domain":[89.21,92.2],"range":[222.6,34],"nice":false,"zero":false,"clamp":true},"axis":null}}},
   {"data":{"values":[{"g":51.4}]},"mark":{"type":"rule","color":"#b0b0b0","strokeWidth":2},"encoding":{"x":{"field":"g","type":"quantitative","scale":{"type":"log","domain":[103.9,35.2],"range":[131.7,434.2],"nice":false},"axis":null},"y":{"datum":89.21,"type":"quantitative","scale":{"domain":[89.21,92.2],"range":[222.6,34],"nice":false,"zero":false,"clamp":true},"axis":null},"y2":{"datum":92.2}}},
   {"data":{"name":"pts"},"transform":[{"filter":"datum.panel=='0.05' && datum.series=='Iterative Mag.Pr'"}],"mark":{"type":"rule","color":"#0000ff","strokeWidth":4.6,"opacity":0.5},"encoding":{"x":{"field":"x","type":"quantitative","scale":{"type":"log","domain":[103.9,35.2],"range":[131.7,434.2],"nice":false},"axis":null},"y":{"field":"lo","type":"quantitative","scale":{"domain":[89.21,92.2],"range":[222.6,34],"nice":false,"zero":false,"clamp":true},"axis":null},"y2":{"field":"hi"}}},
   {"data":{"name":"pts"},"transform":[{"filter":"datum.panel=='0.05' && datum.series=='Iterative Mag.Pr (continued)'"}],"mark":{"type":"rule","color":"#0000ff","strokeWidth":4.6,"opacity":0.5,"strokeDash":[6,5]},"encoding":{"x":{"field":"x","type":"quantitative","scale":{"type":"log","domain":[103.9,35.2],"range":[131.7,434.2],"nice":false},"axis":null},"y":{"field":"lo","type":"quantitative","scale":{"domain":[89.21,92.2],"range":[222.6,34],"nice":false,"zero":false,"clamp":true},"axis":null},"y2":{"field":"hi"}}},
   {"data":{"name":"pts"},"transform":[{"filter":"datum.panel=='0.05' && datum.series=='CS'"}],"mark":{"type":"rule","color":"#800080","strokeWidth":7.3,"opacity":0.5},"encoding":{"x":{"field":"x","type":"quantitative","scale":{"type":"log","domain":[103.9,35.2],"range":[131.7,434.2],"nice":false},"axis":null},"y":{"field":"lo","type":"quantitative","scale":{"domain":[89.21,92.2],"range":[222.6,34],"nice":false,"zero":false,"clamp":true},"axis":null},"y2":{"field":"hi"}}},
   {"data":{"name":"pts"},"transform":[{"filter":"datum.panel=='0.05'"}],"mark":{"type":"line"},"encoding":{"x":{"field":"x","type":"quantitative","scale":{"type":"log","domain":[103.9,35.2],"range":[131.7,434.2],"nice":false},"axis":null},"y":{"field":"y","type":"quantitative","scale":{"domain":[89.21,92.2],"range":[222.6,34],"nice":false,"zero":false,"clamp":true},"axis":null},"color":{"field":"series","type":"nominal","scale":{"domain":["Iterative Mag.Pr","Iterative Mag.Pr (continued)","CS"],"range":["#0000ff","#0000ff","#800080"]},"legend":null},"strokeDash":{"field":"series","type":"nominal","scale":{"domain":["Iterative Mag.Pr","Iterative Mag.Pr (continued)","CS"],"range":[[1,0],[6,5],[1,0]]},"legend":null},"strokeWidth":{"field":"series","type":"nominal","scale":{"domain":["Iterative Mag.Pr","Iterative Mag.Pr (continued)","CS"],"range":[5,5,10]},"legend":null},"order":{"value":null}}},
   {"data":{"values":[{}]},"mark":{"type":"rule","color":"black","strokeWidth":2},"encoding":{"x":{"datum":100,"type":"quantitative","scale":{"type":"log","domain":[103.9,35.2],"range":[131.7,434.2],"nice":false},"axis":null},"y":{"datum":89.21,"type":"quantitative","scale":{"domain":[89.21,92.2],"range":[222.6,34],"nice":false,"zero":false,"clamp":true},"axis":null},"y2":{"datum":92.2}}},
   {"data":{"values":[{"g":92},{"g":90}]},"mark":{"type":"rule","color":"black","strokeWidth":2},"encoding":{"x":{"datum":100,"type":"quantitative","scale":{"type":"log","domain":[103.9,35.2],"range":[131.7,434.2],"nice":false},"axis":null},"x2":{"datum":103.2},"y":{"field":"g","type":"quantitative","scale":{"domain":[89.21,92.2],"range":[222.6,34],"nice":false,"zero":false,"clamp":true},"axis":null}}},
   {"data":{"name":"zoom"},"transform":[{"filter":"datum.panel=='0.05'"}],"mark":{"type":"rect","filled":false,"color":"black","strokeWidth":2},"encoding":{"x":{"field":"x0","type":"quantitative","scale":{"type":"log","domain":[103.9,35.2],"range":[131.7,434.2],"nice":false},"axis":null},"x2":{"field":"x1"},"y":{"field":"y0","type":"quantitative","scale":{"domain":[89.21,92.2],"range":[222.6,34],"nice":false,"zero":false,"clamp":true},"axis":null},"y2":{"field":"y1"}}}
  ]},
 {"title": {"text": "s⁽⁰⁾ = 0.03", "dx": -14}, "width": 443.5, "height": 302,
  "resolve": {"scale": {"x": "independent", "y": "independent", "color": "independent", "strokeDash": "independent", "strokeWidth": "independent"}},
  "layer": [
   {"data":{"name":"pts"},"transform":[{"filter":"datum.panel=='0.03' && datum.series=='Iterative Mag.Pr'"}],"mark":{"type":"rule","color":"#0000ff","strokeWidth":1.8,"opacity":0.5},"encoding":{"x":{"field":"x","type":"quantitative","scale":{"type":"log","domain":[100,1.9],"nice":false},"axis":{"values":[100,51.4,26.5,13.7,7.1,3.7,1.9],"format":".1f","labelFlush":false,"title":"Percentage of weights remaining (%)"}},"y":{"field":"lo","type":"quantitative","scale":{"domain":[82,94],"nice":false,"zero":false},"axis":{"values":[82,84,86,88,90,92,94],"title":"Test Accuracy (%)"}},"y2":{"field":"hi"}}},
   {"data":{"name":"pts"},"transform":[{"filter":"datum.panel=='0.03' && datum.series=='Iterative Mag.Pr (continued)'"}],"mark":{"type":"rule","color":"#0000ff","strokeWidth":1.8,"opacity":0.5,"strokeDash":[2.2,2]},"encoding":{"x":{"field":"x","type":"quantitative","scale":{"type":"log","domain":[100,1.9],"nice":false},"axis":null},"y":{"field":"lo","type":"quantitative","scale":{"domain":[82,94],"nice":false,"zero":false},"axis":null},"y2":{"field":"hi"}}},
   {"data":{"name":"pts"},"transform":[{"filter":"datum.panel=='0.03' && datum.series=='CS'"}],"mark":{"type":"rule","color":"#800080","strokeWidth":2.9,"opacity":0.5},"encoding":{"x":{"field":"x","type":"quantitative","scale":{"type":"log","domain":[100,1.9],"nice":false},"axis":null},"y":{"field":"lo","type":"quantitative","scale":{"domain":[82,94],"nice":false,"zero":false},"axis":null},"y2":{"field":"hi"}}},
   {"data":{"name":"pts"},"transform":[{"filter":"datum.panel=='0.03'"}],"mark":{"type":"line"},"encoding":{"x":{"field":"x","type":"quantitative","scale":{"type":"log","domain":[100,1.9],"nice":false},"axis":null},"y":{"field":"y","type":"quantitative","scale":{"domain":[82,94],"nice":false,"zero":false},"axis":null},"color":{"field":"series","type":"nominal","scale":{"domain":["Iterative Mag.Pr","Iterative Mag.Pr (continued)","CS"],"range":["#0000ff","#0000ff","#800080"]},"title":null,"legend":{"symbolType":"M-2,0H2M0,-0.9V0.9"}},"strokeDash":{"field":"series","type":"nominal","scale":{"domain":["Iterative Mag.Pr","Iterative Mag.Pr (continued)","CS"],"range":[[1,0],[2.2,2],[1,0]]},"title":null,"legend":{"symbolType":"M-2,0H2M0,-0.9V0.9"}},"strokeWidth":{"field":"series","type":"nominal","scale":{"domain":["Iterative Mag.Pr","Iterative Mag.Pr (continued)","CS"],"range":[1.8,1.8,3.8]},"title":null,"legend":{"symbolType":"M-2,0H2M0,-0.9V0.9"}},"order":{"value":null}}},
   {"data":{"name":"zoom"},"transform":[{"filter":"datum.panel=='0.03'"}],"mark":{"type":"rect","filled":false,"color":"black","strokeWidth":1},"encoding":{"x":{"field":"x0","type":"quantitative","scale":{"type":"log","domain":[100,1.9],"nice":false},"axis":null},"x2":{"field":"x1"},"y":{"field":"y0","type":"quantitative","scale":{"domain":[82,94],"nice":false,"zero":false},"axis":null},"y2":{"field":"y1"}}},
   {"data":{"name":"conn"},"transform":[{"filter":"datum.panel=='0.03'"}],"mark":{"type":"rule","color":"black","strokeWidth":0.8},"encoding":{"x":{"field":"xa","type":"quantitative","scale":{"type":"log","domain":[100,1.9],"nice":false},"axis":null},"x2":{"field":"xb"},"y":{"field":"ya","type":"quantitative","scale":{"domain":[82,94],"nice":false,"zero":false},"axis":null},"y2":{"field":"yb"}}},
   {"data":{"name":"zoom"},"transform":[{"filter":"datum.panel=='0.03'"}],"mark":{"type":"rect","color":"white"},"encoding":{"x":{"field":"x0","type":"quantitative","scale":{"type":"log","domain":[95.6,29.2],"range":[169.3,434.3],"nice":false,"clamp":true},"axis":null},"x2":{"field":"x1"},"y":{"field":"y0","type":"quantitative","scale":{"domain":[88.84,92.59],"range":[222.6,33.3],"nice":false,"zero":false,"clamp":true},"axis":null},"y2":{"field":"y1"}}},
   {"data":{"values":[{"g":92},{"g":90}]},"mark":{"type":"rule","color":"#b0b0b0","strokeWidth":2},"encoding":{"x":{"datum":95.6,"type":"quantitative","scale":{"type":"log","domain":[95.6,29.2],"range":[169.3,434.3],"nice":false,"clamp":true},"axis":null},"x2":{"datum":29.2},"y":{"field":"g","type":"quantitative","scale":{"domain":[88.84,92.59],"range":[222.6,33.3],"nice":false,"zero":false,"clamp":true},"axis":null}}},
   {"data":{"values":[{"g":51.4}]},"mark":{"type":"rule","color":"#b0b0b0","strokeWidth":2},"encoding":{"x":{"field":"g","type":"quantitative","scale":{"type":"log","domain":[95.6,29.2],"range":[169.3,434.3],"nice":false,"clamp":true},"axis":null},"y":{"datum":88.84,"type":"quantitative","scale":{"domain":[88.84,92.59],"range":[222.6,33.3],"nice":false,"zero":false,"clamp":true},"axis":null},"y2":{"datum":92.59}}},
   {"data":{"name":"pts"},"transform":[{"filter":"datum.panel=='0.03' && datum.series=='Iterative Mag.Pr'"}],"mark":{"type":"rule","color":"#0000ff","strokeWidth":3.6,"opacity":0.5},"encoding":{"x":{"field":"x","type":"quantitative","scale":{"type":"log","domain":[95.6,29.2],"range":[169.3,434.3],"nice":false,"clamp":true},"axis":null},"y":{"field":"lo","type":"quantitative","scale":{"domain":[88.84,92.59],"range":[222.6,33.3],"nice":false,"zero":false,"clamp":true},"axis":null},"y2":{"field":"hi"}}},
   {"data":{"name":"pts"},"transform":[{"filter":"datum.panel=='0.03' && datum.series=='Iterative Mag.Pr (continued)'"}],"mark":{"type":"rule","color":"#0000ff","strokeWidth":3.6,"opacity":0.5,"strokeDash":[4.4,4]},"encoding":{"x":{"field":"x","type":"quantitative","scale":{"type":"log","domain":[95.6,29.2],"range":[169.3,434.3],"nice":false,"clamp":true},"axis":null},"y":{"field":"lo","type":"quantitative","scale":{"domain":[88.84,92.59],"range":[222.6,33.3],"nice":false,"zero":false,"clamp":true},"axis":null},"y2":{"field":"hi"}}},
   {"data":{"name":"pts"},"transform":[{"filter":"datum.panel=='0.03' && datum.series=='CS'"}],"mark":{"type":"rule","color":"#800080","strokeWidth":5.8,"opacity":0.5},"encoding":{"x":{"field":"x","type":"quantitative","scale":{"type":"log","domain":[95.6,29.2],"range":[169.3,434.3],"nice":false,"clamp":true},"axis":null},"y":{"field":"lo","type":"quantitative","scale":{"domain":[88.84,92.59],"range":[222.6,33.3],"nice":false,"zero":false,"clamp":true},"axis":null},"y2":{"field":"hi"}}},
   {"data":{"name":"pts"},"transform":[{"filter":"datum.panel=='0.03'"}],"mark":{"type":"line"},"encoding":{"x":{"field":"x","type":"quantitative","scale":{"type":"log","domain":[95.6,29.2],"range":[169.3,434.3],"nice":false,"clamp":true},"axis":null},"y":{"field":"y","type":"quantitative","scale":{"domain":[88.84,92.59],"range":[222.6,33.3],"nice":false,"zero":false,"clamp":true},"axis":null},"color":{"field":"series","type":"nominal","scale":{"domain":["Iterative Mag.Pr","Iterative Mag.Pr (continued)","CS"],"range":["#0000ff","#0000ff","#800080"]},"legend":null},"strokeDash":{"field":"series","type":"nominal","scale":{"domain":["Iterative Mag.Pr","Iterative Mag.Pr (continued)","CS"],"range":[[1,0],[4.4,4],[1,0]]},"legend":null},"strokeWidth":{"field":"series","type":"nominal","scale":{"domain":["Iterative Mag.Pr","Iterative Mag.Pr (continued)","CS"],"range":[3.6,3.6,7.6]},"legend":null},"order":{"value":null}}},
   {"data":{"name":"zoom"},"transform":[{"filter":"datum.panel=='0.03'"}],"mark":{"type":"rect","filled":false,"color":"black","strokeWidth":2},"encoding":{"x":{"field":"x0","type":"quantitative","scale":{"type":"log","domain":[95.6,29.2],"range":[169.3,434.3],"nice":false,"clamp":true},"axis":null},"x2":{"field":"x1"},"y":{"field":"y0","type":"quantitative","scale":{"domain":[88.84,92.59],"range":[222.6,33.3],"nice":false,"zero":false,"clamp":true},"axis":null},"y2":{"field":"y1"}}}
  ]},
 {"title": {"text": "s⁽⁰⁾ = 0.0", "dx": -14}, "width": 443.5, "height": 302,
  "resolve": {"scale": {"x": "independent", "y": "independent", "color": "independent", "strokeDash": "independent", "strokeWidth": "independent"}},
  "layer": [
   {"data":{"name":"pts"},"transform":[{"filter":"datum.panel=='0.0' && datum.series=='Iterative Mag.Pr'"}],"mark":{"type":"rule","color":"#0000ff","strokeWidth":1.8,"opacity":0.5},"encoding":{"x":{"field":"x","type":"quantitative","scale":{"type":"log","domain":[100,1.9],"nice":false},"axis":{"values":[100,51.4,26.5,13.7,7.1,3.7,1.9],"format":".1f","labelFlush":false,"title":"Percentage of weights remaining (%)"}},"y":{"field":"lo","type":"quantitative","scale":{"domain":[82,94],"nice":false,"zero":false},"axis":{"values":[82,84,86,88,90,92,94],"title":"Test Accuracy (%)"}},"y2":{"field":"hi"}}},
   {"data":{"name":"pts"},"transform":[{"filter":"datum.panel=='0.0' && datum.series=='Iterative Mag.Pr (continued)'"}],"mark":{"type":"rule","color":"#0000ff","strokeWidth":1.8,"opacity":0.5,"strokeDash":[2.2,2]},"encoding":{"x":{"field":"x","type":"quantitative","scale":{"type":"log","domain":[100,1.9],"nice":false},"axis":null},"y":{"field":"lo","type":"quantitative","scale":{"domain":[82,94],"nice":false,"zero":false},"axis":null},"y2":{"field":"hi"}}},
   {"data":{"name":"pts"},"transform":[{"filter":"datum.panel=='0.0' && datum.series=='CS'"}],"mark":{"type":"rule","color":"#800080","strokeWidth":2.9,"opacity":0.5},"encoding":{"x":{"field":"x","type":"quantitative","scale":{"type":"log","domain":[100,1.9],"nice":false},"axis":null},"y":{"field":"lo","type":"quantitative","scale":{"domain":[82,94],"nice":false,"zero":false},"axis":null},"y2":{"field":"hi"}}},
   {"data":{"name":"pts"},"transform":[{"filter":"datum.panel=='0.0'"}],"mark":{"type":"line"},"encoding":{"x":{"field":"x","type":"quantitative","scale":{"type":"log","domain":[100,1.9],"nice":false},"axis":null},"y":{"field":"y","type":"quantitative","scale":{"domain":[82,94],"nice":false,"zero":false},"axis":null},"color":{"field":"series","type":"nominal","scale":{"domain":["Iterative Mag.Pr","Iterative Mag.Pr (continued)","CS"],"range":["#0000ff","#0000ff","#800080"]},"title":null,"legend":{"symbolType":"M-2,0H2M0,-0.9V0.9"}},"strokeDash":{"field":"series","type":"nominal","scale":{"domain":["Iterative Mag.Pr","Iterative Mag.Pr (continued)","CS"],"range":[[1,0],[2.2,2],[1,0]]},"title":null,"legend":{"symbolType":"M-2,0H2M0,-0.9V0.9"}},"strokeWidth":{"field":"series","type":"nominal","scale":{"domain":["Iterative Mag.Pr","Iterative Mag.Pr (continued)","CS"],"range":[1.8,1.8,3.8]},"title":null,"legend":{"symbolType":"M-2,0H2M0,-0.9V0.9"}},"order":{"value":null}}},
   {"data":{"name":"zoom"},"transform":[{"filter":"datum.panel=='0.0'"}],"mark":{"type":"rect","filled":false,"color":"black","strokeWidth":1},"encoding":{"x":{"field":"x0","type":"quantitative","scale":{"type":"log","domain":[100,1.9],"nice":false},"axis":null},"x2":{"field":"x1"},"y":{"field":"y0","type":"quantitative","scale":{"domain":[82,94],"nice":false,"zero":false},"axis":null},"y2":{"field":"y1"}}},
   {"data":{"name":"zoom"},"transform":[{"filter":"datum.panel=='0.0'"}],"mark":{"type":"rect","color":"white"},"encoding":{"x":{"field":"x0","type":"quantitative","scale":{"type":"log","domain":[73.1,22.3],"range":[169.4,434.4],"nice":false,"clamp":true},"axis":null},"x2":{"field":"x1"},"y":{"field":"y0","type":"quantitative","scale":{"domain":[88.84,92.59],"range":[222.6,33.3],"nice":false,"zero":false,"clamp":true},"axis":null},"y2":{"field":"y1"}}},
   {"data":{"values":[{"g":92},{"g":90}]},"mark":{"type":"rule","color":"#b0b0b0","strokeWidth":2},"encoding":{"x":{"datum":73.1,"type":"quantitative","scale":{"type":"log","domain":[73.1,22.3],"range":[169.4,434.4],"nice":false,"clamp":true},"axis":null},"x2":{"datum":22.3},"y":{"field":"g","type":"quantitative","scale":{"domain":[88.84,92.59],"range":[222.6,33.3],"nice":false,"zero":false,"clamp":true},"axis":null}}},
   {"data":{"values":[{"g":51.4},{"g":26.5}]},"mark":{"type":"rule","color":"#b0b0b0","strokeWidth":2},"encoding":{"x":{"field":"g","type":"quantitative","scale":{"type":"log","domain":[73.1,22.3],"range":[169.4,434.4],"nice":false,"clamp":true},"axis":null},"y":{"datum":88.84,"type":"quantitative","scale":{"domain":[88.84,92.59],"range":[222.6,33.3],"nice":false,"zero":false,"clamp":true},"axis":null},"y2":{"datum":92.59}}},
   {"data":{"name":"pts"},"transform":[{"filter":"datum.panel=='0.0' && datum.series=='Iterative Mag.Pr'"}],"mark":{"type":"rule","color":"#0000ff","strokeWidth":3.6,"opacity":0.5},"encoding":{"x":{"field":"x","type":"quantitative","scale":{"type":"log","domain":[73.1,22.3],"range":[169.4,434.4],"nice":false,"clamp":true},"axis":null},"y":{"field":"lo","type":"quantitative","scale":{"domain":[88.84,92.59],"range":[222.6,33.3],"nice":false,"zero":false,"clamp":true},"axis":null},"y2":{"field":"hi"}}},
   {"data":{"name":"pts"},"transform":[{"filter":"datum.panel=='0.0' && datum.series=='Iterative Mag.Pr (continued)'"}],"mark":{"type":"rule","color":"#0000ff","strokeWidth":3.6,"opacity":0.5,"strokeDash":[4.4,4]},"encoding":{"x":{"field":"x","type":"quantitative","scale":{"type":"log","domain":[73.1,22.3],"range":[169.4,434.4],"nice":false,"clamp":true},"axis":null},"y":{"field":"lo","type":"quantitative","scale":{"domain":[88.84,92.59],"range":[222.6,33.3],"nice":false,"zero":false,"clamp":true},"axis":null},"y2":{"field":"hi"}}},
   {"data":{"name":"pts"},"transform":[{"filter":"datum.panel=='0.0' && datum.series=='CS'"}],"mark":{"type":"rule","color":"#800080","strokeWidth":5.8,"opacity":0.5},"encoding":{"x":{"field":"x","type":"quantitative","scale":{"type":"log","domain":[73.1,22.3],"range":[169.4,434.4],"nice":false,"clamp":true},"axis":null},"y":{"field":"lo","type":"quantitative","scale":{"domain":[88.84,92.59],"range":[222.6,33.3],"nice":false,"zero":false,"clamp":true},"axis":null},"y2":{"field":"hi"}}},
   {"data":{"name":"pts"},"transform":[{"filter":"datum.panel=='0.0'"}],"mark":{"type":"line"},"encoding":{"x":{"field":"x","type":"quantitative","scale":{"type":"log","domain":[73.1,22.3],"range":[169.4,434.4],"nice":false,"clamp":true},"axis":null},"y":{"field":"y","type":"quantitative","scale":{"domain":[88.84,92.59],"range":[222.6,33.3],"nice":false,"zero":false,"clamp":true},"axis":null},"color":{"field":"series","type":"nominal","scale":{"domain":["Iterative Mag.Pr","Iterative Mag.Pr (continued)","CS"],"range":["#0000ff","#0000ff","#800080"]},"legend":null},"strokeDash":{"field":"series","type":"nominal","scale":{"domain":["Iterative Mag.Pr","Iterative Mag.Pr (continued)","CS"],"range":[[1,0],[4.4,4],[1,0]]},"legend":null},"strokeWidth":{"field":"series","type":"nominal","scale":{"domain":["Iterative Mag.Pr","Iterative Mag.Pr (continued)","CS"],"range":[3.6,3.6,7.6]},"legend":null},"order":{"value":null}}},
   {"data":{"name":"zoom"},"transform":[{"filter":"datum.panel=='0.0'"}],"mark":{"type":"rect","filled":false,"color":"black","strokeWidth":2},"encoding":{"x":{"field":"x0","type":"quantitative","scale":{"type":"log","domain":[73.1,22.3],"range":[169.4,434.4],"nice":false,"clamp":true},"axis":null},"x2":{"field":"x1"},"y":{"field":"y0","type":"quantitative","scale":{"domain":[88.84,92.59],"range":[222.6,33.3],"nice":false,"zero":false,"clamp":true},"axis":null},"y2":{"field":"y1"}}}
  ]}
]
}
